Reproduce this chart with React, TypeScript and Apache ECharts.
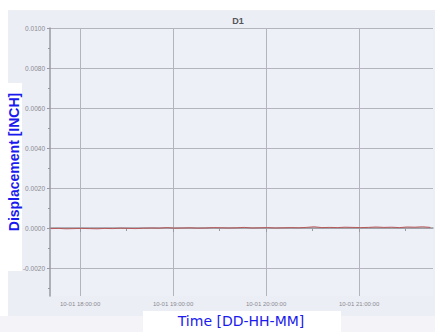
import React, { useEffect, useRef } from "react";
import * as echarts from "echarts";

const startTime = "2023-10-01T17:41:00";
const stepMinutes = 5;
// displacement in units of 1e-5 inch, every 5 minutes
const displacementE5 = [
  -3, -2, -4, -3, -2, -3, -4, -2, -3, -1, -2, -3, -1, 0, -1, 2, -1, 0, 1, -1,
  0, 2, 1, 0, 1, 3, 0, 1, 2, 0, 1, 2, 1, 3, 6, 2, 3, 2, 4, 3, 2, 3, 5, 3, 4,
  2, 5, 4, 6, 3,
];
const xMin = "2023-10-01T17:40:36";
const xMax = "2023-10-01T21:47:42";
const xMajorTicks = [
  "2023-10-01T18:00:00",
  "2023-10-01T19:00:00",
  "2023-10-01T20:00:00",
  "2023-10-01T21:00:00",
];
const xMinorTicks = [
  "2023-10-01T18:30:00",
  "2023-10-01T19:30:00",
  "2023-10-01T20:30:00",
  "2023-10-01T21:30:00",
];
const yMajorTicks = [-0.002, 0, 0.002, 0.004, 0.006, 0.008, 0.01];
const yMinorTicks = [-0.003, -0.001, 0.001, 0.003, 0.005, 0.007, 0.009];
const yMin = -0.0034;
const yMax = 0.01;

const pad = (n: number) => (n < 10 ? "0" + n : "" + n);

export default function App() {
  const ref = useRef<HTMLDivElement>(null);
  useEffect(() => {
    if (!ref.current) return;
    const chart = echarts.init(ref.current, null, { renderer: "svg" });
    const t0 = new Date(startTime).getTime();
    const data = displacementE5.map((v, i) => [
      t0 + i * stepMinutes * 60000,
      v * 1e-5,
    ]);
    const ms = (s: string) => new Date(s).getTime();
    const fmt = (v: number) => {
      const d = new Date(v);
      return `${pad(d.getMonth() + 1)}-${pad(d.getDate())} ${pad(d.getHours())}:${pad(d.getMinutes())}:${pad(d.getSeconds())}`;
    };
    const gridColor = "#b4b4be";
    const labelColor = "#8a8a92";
    chart.setOption({
      animation: false,
      backgroundColor: "#eceef5",
      title: {
        text: "D1",
        left: 233,
        top: 11,
        textAlign: "center",
        textStyle: {
          fontFamily: "Liberation Sans",
          fontSize: 9,
          fontWeight: "bold",
          color: "#55555c",
        },
      },
      graphic: [
        { type: "rect", shape: { x: 0, y: 0, width: 435, height: 10 }, style: { fill: "#ffffff" }, silent: true },
        { type: "rect", shape: { x: 0, y: 0, width: 8, height: 332 }, style: { fill: "#ffffff" }, silent: true },
        { type: "rect", shape: { x: 0, y: 83, width: 22, height: 188 }, style: { fill: "#ffffff" }, silent: true },
        { type: "rect", shape: { x: 0, y: 316, width: 435, height: 16 }, style: { fill: "#f4f4f8" }, silent: true },
        { type: "rect", shape: { x: 143, y: 311, width: 198, height: 21 }, style: { fill: "#ffffff" }, silent: true },
        {
          type: "text",
          x: 14,
          y: 162,
          rotation: Math.PI / 2,
          style: {
            text: "Displacement [INCH]",
            fill: "#1a1aee",
            font: "bold 14px 'Liberation Sans'",
            align: "center",
            verticalAlign: "middle",
          },
        },
        {
          type: "text",
          x: 241,
          y: 321,
          style: {
            text: "Time [DD-HH-MM]",
            fill: "#1a1aee",
            font: "14px 'DejaVu Sans'",
            align: "center",
            verticalAlign: "middle",
          },
        },
      ],
      grid: { left: 50, top: 28, width: 383, height: 268, show: true, backgroundColor: "#eef0f7", borderWidth: 0 },
      xAxis: [
        {
          type: "value",
          min: ms(xMin),
          max: ms(xMax),
          axisLine: { show: true, lineStyle: { color: "#9a9aa2", width: 1.5 } },
          axisTick: {
            show: true,
            customValues: xMajorTicks.map(ms),
            length: 4,
            inside: false,
            lineStyle: { color: "#9a9aa2" },
          },
          axisLabel: {
            customValues: xMajorTicks.map(ms),
            formatter: (v: number) => fmt(v),
            fontSize: 6,
            color: labelColor,
            margin: 5,
            fontFamily: "Liberation Sans",
          },
          splitLine: { show: true, lineStyle: { color: gridColor, width: 1 } },
        },
        {
          type: "value",
          position: "bottom",
          min: ms(xMin),
          max: ms(xMax),
          axisLine: { show: false },
          axisTick: {
            show: true,
            customValues: xMinorTicks.map(ms),
            length: 3,
            lineStyle: { color: "#9a9aa2" },
          },
          axisLabel: { show: false },
          splitLine: { show: false },
        },
      ],
      yAxis: [
        {
          type: "value",
          min: yMin,
          max: yMax,
          axisLine: { show: true, lineStyle: { color: "#9a9aa2", width: 1.5 } },
          axisTick: {
            show: true,
            customValues: yMajorTicks,
            length: 3,
            lineStyle: { color: "#9a9aa2" },
          },
          axisLabel: {
            customValues: yMajorTicks,
            formatter: (v: number) => v.toFixed(4),
            fontSize: 6.5,
            color: labelColor,
            margin: 5,
            fontFamily: "Liberation Sans",
          },
          splitLine: { show: true, lineStyle: { color: gridColor, width: 1 } },
        },
        {
          type: "value",
          position: "left",
          min: yMin,
          max: yMax,
          axisLine: { show: false },
          axisTick: {
            show: true,
            customValues: yMinorTicks,
            length: 2,
            lineStyle: { color: "#9a9aa2" },
          },
          axisLabel: { show: false },
          splitLine: { show: false },
        },
      ],
      series: [
        {
          type: "line",
          data,
          showSymbol: false,
          lineStyle: { color: "#b85a5a", width: 1 },
        },
      ],
    });
    return () => chart.dispose();
  }, []);
  return (
    <div
      ref={ref}
      style={{ position: "fixed", left: 0, top: 0, width: 435, height: 332 }}
    />
  );
}
